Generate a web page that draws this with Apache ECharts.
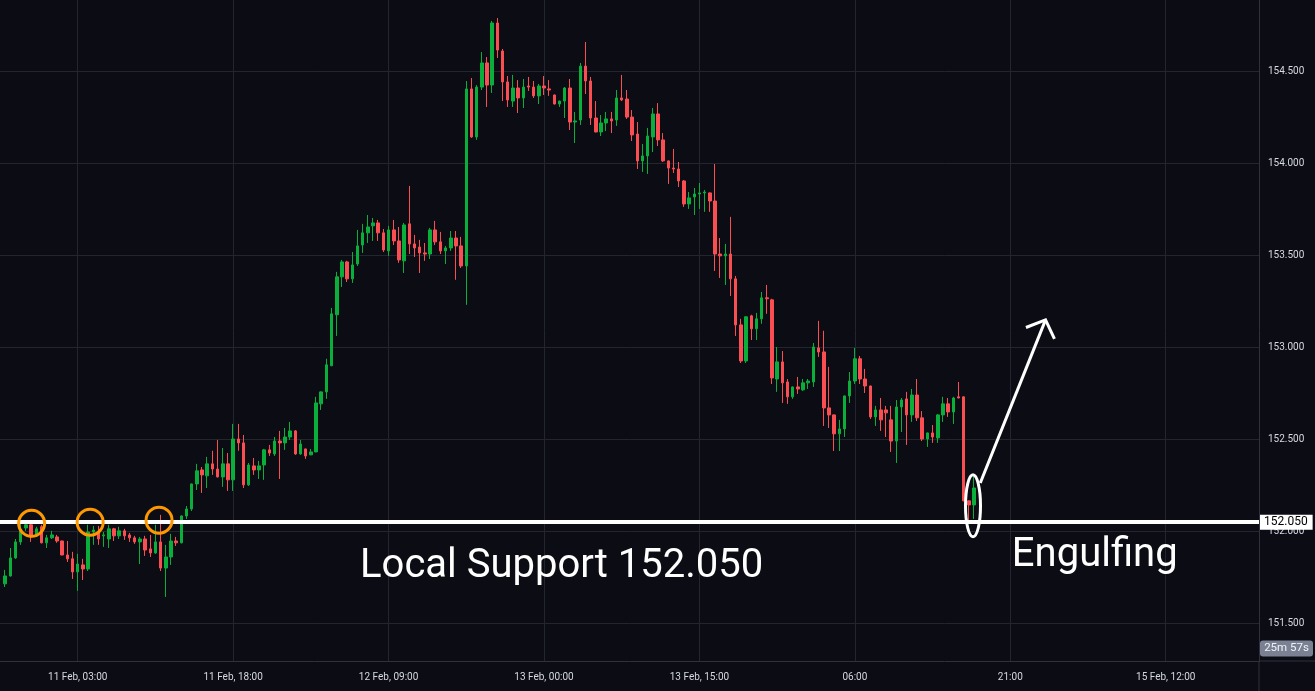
<!DOCTYPE html>
<html><head><meta charset="utf-8">
<script src="https://cdn.jsdelivr.net/npm/echarts@6/dist/echarts.min.js"></script>
<style>html,body{margin:0;padding:0;background:#0c0d14;overflow:hidden}#c{width:1315px;height:691px;}</style>
</head><body><div id="c"></div>
<script>
// slots are half-hours counted from 10 Feb 12:00
const firstSlot = 15, lastSlot = 258, firstCandleSlot = 16;

const opens = [
151.715,151.758,151.856,151.943,152.019,152.036,151.981,152.025,151.938,151.965,
151.970,151.948,151.872,151.851,151.780,151.818,151.796,151.997,151.992,151.976,
151.959,152.014,151.976,152.003,151.981,151.965,151.943,151.959,151.905,151.883,
151.943,151.801,151.861,151.948,151.938,152.084,152.122,152.258,152.334,152.302,
152.367,152.339,152.296,152.367,152.280,152.502,152.481,152.253,152.356,152.334,
152.361,152.443,152.421,152.491,152.481,152.513,152.546,152.421,152.448,152.416,
152.432,152.693,152.758,152.900,153.177,153.383,153.464,153.372,153.453,153.556,
153.622,153.660,153.676,153.622,153.524,153.638,153.578,153.470,153.671,153.562,
153.545,153.513,153.507,153.638,153.573,153.524,153.540,153.594,153.551,153.442,
154.404,154.143,154.414,154.545,154.425,154.762,154.610,154.442,154.338,154.409,
154.355,154.420,154.414,154.366,154.420,154.404,154.371,154.322,154.338,154.409,
154.224,154.235,154.528,154.447,154.246,154.170,154.219,154.241,154.235,154.355,
154.349,154.251,154.159,154.013,154.040,154.143,154.268,154.127,154.013,153.974,
153.969,153.904,153.779,153.817,153.833,153.839,153.839,153.795,153.507,153.497,
153.507,153.372,153.122,152.926,153.171,153.101,153.155,153.269,153.258,152.828,
152.921,152.812,152.731,152.785,152.769,152.807,152.812,152.997,152.975,152.671,
152.633,152.530,152.557,152.736,152.817,152.938,152.828,152.790,152.622,152.660,
152.660,152.606,152.491,152.676,152.720,152.633,152.741,152.617,152.502,152.535,
152.508,152.633,152.693,152.649,152.731,152.731,152.166,152.144];
const closes = [
151.758,151.856,151.943,152.008,152.036,151.970,152.014,151.938,151.965,151.981,
151.948,151.872,151.851,151.780,151.823,151.796,151.997,152.008,151.959,151.981,
152.014,151.976,152.003,151.976,151.965,151.943,151.959,151.899,151.883,151.943,
151.801,151.861,151.948,151.938,152.084,152.122,152.258,152.329,152.307,152.367,
152.339,152.296,152.367,152.280,152.502,152.481,152.253,152.361,152.334,152.356,
152.443,152.426,152.491,152.481,152.513,152.546,152.421,152.475,152.410,152.432,
152.698,152.758,152.905,153.182,153.383,153.464,153.372,153.448,153.551,153.622,
153.654,153.676,153.622,153.529,153.638,153.578,153.475,153.665,153.562,153.540,
153.513,153.507,153.638,153.573,153.524,153.540,153.594,153.551,153.442,154.404,
154.143,154.414,154.545,154.425,154.762,154.615,154.442,154.344,154.409,154.355,
154.414,154.414,154.366,154.420,154.409,154.398,154.322,154.338,154.409,154.224,
154.230,154.528,154.447,154.246,154.170,154.219,154.241,154.230,154.355,154.344,
154.251,154.154,154.013,154.040,154.148,154.268,154.127,154.013,153.974,153.969,
153.904,153.779,153.812,153.833,153.839,153.844,153.795,153.507,153.497,153.507,
153.372,153.122,152.926,153.166,153.101,153.155,153.269,153.264,152.834,152.921,
152.807,152.731,152.785,152.774,152.807,152.817,153.002,152.975,152.671,152.633,
152.530,152.557,152.736,152.817,152.938,152.828,152.790,152.622,152.660,152.606,
152.644,152.491,152.676,152.714,152.633,152.741,152.617,152.502,152.535,152.513,
152.633,152.693,152.649,152.725,152.725,152.166,152.144,152.236];
const lows = [
151.698,151.755,151.851,151.927,152.003,151.943,151.970,151.935,151.910,151.959,
151.938,151.870,151.834,151.742,151.677,151.736,151.785,151.927,151.927,151.916,
151.910,151.948,151.959,151.954,151.943,151.932,151.823,151.867,151.861,151.878,
151.785,151.644,151.818,151.921,151.935,152.068,152.111,152.225,152.209,152.236,
152.307,152.293,152.242,152.220,152.220,152.438,152.236,152.247,152.307,152.285,
152.280,152.410,152.410,152.285,152.443,152.497,152.416,152.416,152.394,152.414,
152.430,152.660,152.720,152.898,153.062,153.328,153.355,153.350,153.442,153.513,
153.567,153.578,153.578,153.518,153.497,153.556,153.459,153.404,153.507,153.491,
153.404,153.470,153.480,153.556,153.507,153.453,153.524,153.367,153.431,153.231,
154.138,154.127,154.398,154.306,154.382,154.572,154.338,154.306,154.306,154.273,
154.300,154.393,154.355,154.322,154.371,154.366,154.320,154.306,154.246,154.181,
154.110,154.208,154.376,154.208,154.168,154.148,154.175,154.164,154.203,154.338,
154.241,154.121,153.969,153.953,153.942,154.061,154.094,154.007,153.888,153.947,
153.871,153.763,153.752,153.719,153.752,153.736,153.736,153.415,153.377,153.339,
153.279,153.062,152.915,152.915,153.040,153.040,153.128,153.182,152.801,152.758,
152.698,152.693,152.720,152.747,152.763,152.774,152.785,152.948,152.573,152.562,
152.437,152.437,152.513,152.698,152.801,152.801,152.752,152.611,152.573,152.546,
152.513,152.432,152.372,152.540,152.470,152.595,152.600,152.491,152.459,152.481,
152.481,152.595,152.622,152.584,152.723,152.164,152.062,152.068];
const highs = [
151.791,151.910,151.959,152.041,152.062,152.057,152.025,152.036,151.981,152.003,
151.981,151.950,151.948,151.889,151.878,151.851,152.036,152.030,152.030,151.997,
152.036,152.019,152.025,152.014,151.992,151.976,151.970,151.976,151.981,152.036,
152.090,151.927,151.987,151.970,152.087,152.138,152.260,152.367,152.350,152.405,
152.438,152.497,152.453,152.426,152.584,152.584,152.524,152.372,152.399,152.383,
152.448,152.470,152.513,152.546,152.562,152.595,152.551,152.497,152.450,152.448,
152.731,152.760,152.938,153.214,153.410,153.475,153.470,153.518,153.638,153.671,
153.719,153.703,153.692,153.643,153.660,153.692,153.654,153.676,153.877,153.611,
153.584,153.567,153.649,153.687,153.627,153.551,153.632,153.632,153.600,154.447,
154.463,154.425,154.604,154.577,154.773,154.789,154.621,154.474,154.480,154.452,
154.458,154.469,154.447,154.431,154.474,154.452,154.373,154.340,154.414,154.458,
154.279,154.545,154.659,154.469,154.338,154.262,154.279,154.279,154.398,154.480,
154.398,154.289,154.224,154.105,154.192,154.300,154.327,154.164,154.015,154.078,
154.007,153.909,153.844,153.866,153.893,153.855,153.841,153.996,153.594,153.562,
153.709,153.388,153.155,153.168,153.177,153.187,153.301,153.339,153.264,153.002,
152.980,152.828,152.787,152.839,152.828,152.828,153.024,153.144,153.090,152.894,
152.635,152.606,152.738,152.866,152.997,152.953,152.883,152.792,152.682,152.725,
152.682,152.682,152.714,152.725,152.758,152.774,152.828,152.654,152.537,152.578,
152.638,152.731,152.725,152.731,152.812,152.733,152.168,152.312];

const tickSlots = [30, 60, 90, 120, 150, 180, 210, 240];
const tickLabels = ['11 Feb, 03:00', '11 Feb, 18:00', '12 Feb, 09:00', '13 Feb, 00:00',
                    '13 Feb, 15:00', '06:00', '21:00', '15 Feb, 12:00'];
const yMin = 151.296, yMax = 154.887, yStep = 0.5;
const supportLevel = 152.05, supportLabel = '152.050';
const countdownText = '25m 57s';
// annotations in [slot, price]
const circleMarks = [[21.1, 152.044], [32.4, 152.050], [45.7, 152.061]];
const engulfMark = [202.8, 152.139];
const arrowFrom = [204.2, 152.263], arrowTo = [216.8, 153.149];
const textMarks = [
  {text: 'Local Support 152.050', at: [123.4, 151.804]},
  {text: 'Engulfing', at: [226.3, 151.866]}
];

const UP = '#0aae3b', DOWN = '#fb4e52', GRID = '#23252f', AXIS = '#2f323d', LBL = '#d6d9e0';

const categories = [];
for (let s = firstSlot; s <= lastSlot; s++) {
  const m = 12 * 60 + s * 30;
  const day = 10 + Math.floor(m / 1440);
  const mm = m % 1440;
  const hh = String(Math.floor(mm / 60)).padStart(2, '0');
  const mi = String(mm % 60).padStart(2, '0');
  categories.push(day + ' Feb ' + hh + ':' + mi);
}
const seriesData = [];
for (let s = firstSlot; s < firstCandleSlot; s++) seriesData.push('-');
for (let i = 0; i < opens.length; i++) seriesData.push([opens[i], closes[i], lows[i], highs[i]]);

const isTick = idx => tickSlots.indexOf(idx + firstSlot) >= 0;

const chart = echarts.init(document.getElementById('c'), null, {renderer: 'canvas'});
chart.setOption({
  backgroundColor: '#0c0d14',
  animation: false,
  grid: {left: -2, right: 56, top: 0, bottom: 30},
  xAxis: {
    type: 'category', data: categories, boundaryGap: false,
    axisLine: {show: true, lineStyle: {color: AXIS, width: 1}},
    axisTick: {show: false},
    axisLabel: {
      interval: (idx) => isTick(idx),
      formatter: (v, idx) => { const k = tickSlots.indexOf(idx + firstSlot); return k >= 0 ? tickLabels[k] : ''; },
      color: LBL, fontSize: 10, fontFamily: 'Roboto', margin: 11
    },
    splitLine: {show: true, interval: (idx) => isTick(idx), lineStyle: {color: GRID, width: 1}}
  },
  yAxis: {
    type: 'value', position: 'right', min: yMin, max: yMax, scale: true,
    splitNumber: 7, minInterval: yStep, maxInterval: yStep,
    axisLine: {show: true, lineStyle: {color: AXIS, width: 1}},
    axisTick: {show: false},
    axisLabel: {color: LBL, fontSize: 10, fontFamily: 'Roboto', margin: 9,
      showMinLabel: false, showMaxLabel: false, formatter: v => v.toFixed(3)},
    splitLine: {show: true, showMinLine: false, showMaxLine: false, lineStyle: {color: GRID, width: 1}}
  },
  series: [{
    type: 'candlestick', data: seriesData, barWidth: 3,
    itemStyle: {color: UP, color0: DOWN, borderColor: UP, borderColor0: DOWN, borderWidth: 1},
    emphasis: {disabled: true}, silent: true,
    markLine: {
      silent: true, symbol: ['none', 'none'], animation: false,
      lineStyle: {color: '#ffffff', width: 4, type: 'solid'},
      label: {show: true, position: 'end', formatter: supportLabel, color: '#000', backgroundColor: '#fff',
        fontSize: 12, fontFamily: 'Roboto', padding: [2, 5, 1, 4], distance: 1},
      emphasis: {disabled: true},
      data: [{yAxis: supportLevel}]
    }
  }]
});

function px(pt) {
  const s = pt[0], base = Math.floor(s), f = s - base;
  const i = base - firstSlot;
  const p0 = chart.convertToPixel({gridIndex: 0}, [i, pt[1]]);
  const p1 = chart.convertToPixel({gridIndex: 0}, [i + 1, pt[1]]);
  return [p0[0] + (p1[0] - p0[0]) * f, p0[1]];
}
const gr = [];
circleMarks.forEach(c => { const p = px(c);
  gr.push({type: 'circle', shape: {cx: p[0], cy: p[1], r: 13}, style: {fill: 'none', stroke: '#ff9800', lineWidth: 3}, z: 100}); });
const e = px(engulfMark);
gr.push({type: 'ellipse', shape: {cx: e[0], cy: e[1], rx: 7.5, ry: 31}, style: {fill: 'none', stroke: '#fff', lineWidth: 3}, z: 100});
const a0 = px(arrowFrom), a1 = px(arrowTo);
const ang = Math.atan2(a0[1] - a1[1], a0[0] - a1[0]);
const bl = 21, spread = 0.82;
const b1 = [a1[0] + bl * Math.cos(ang + spread), a1[1] + bl * Math.sin(ang + spread)];
const b2 = [a1[0] + bl * Math.cos(ang - spread), a1[1] + bl * Math.sin(ang - spread)];
gr.push({type: 'polyline', shape: {points: [a0, a1]}, style: {stroke: '#fff', lineWidth: 3, fill: null}, z: 100});
gr.push({type: 'polyline', shape: {points: [b1, a1, b2]}, style: {stroke: '#fff', lineWidth: 3, fill: null, lineJoin: 'miter'}, z: 100});
textMarks.forEach(t => { const p = px(t.at);
  gr.push({type: 'text', x: p[0], y: p[1], style: {text: t.text, fill: '#fff', font: '40px Roboto', align: 'center', verticalAlign: 'middle'}, z: 100}); });
// axis chrome beyond the plot
const g = chart.getModel().getComponent('grid', 0).coordinateSystem.getRect();
const axR = g.x + g.width, axB = g.y + g.height;
gr.push({type: 'line', shape: {x1: axR, y1: axB, x2: 1315, y2: axB}, style: {stroke: AXIS, lineWidth: 1}, z: 1});
gr.push({type: 'line', shape: {x1: axR, y1: axB, x2: axR, y2: 691}, style: {stroke: AXIS, lineWidth: 1}, z: 1});
const yLow = chart.convertToPixel({gridIndex: 0}, [0, 151.5])[1];
gr.push({type: 'group', z: 100, children: [
  {type: 'rect', shape: {x: axR + 1, y: yLow + 17, width: 53, height: 16, r: 3}, style: {fill: '#7b8193'}},
  {type: 'text', x: axR + 27.5, y: yLow + 25, style: {text: countdownText, fill: '#f0f2f6', font: '11.5px Roboto', align: 'center', verticalAlign: 'middle'}}
]});
chart.setOption({graphic: gr});
</script></body></html>
